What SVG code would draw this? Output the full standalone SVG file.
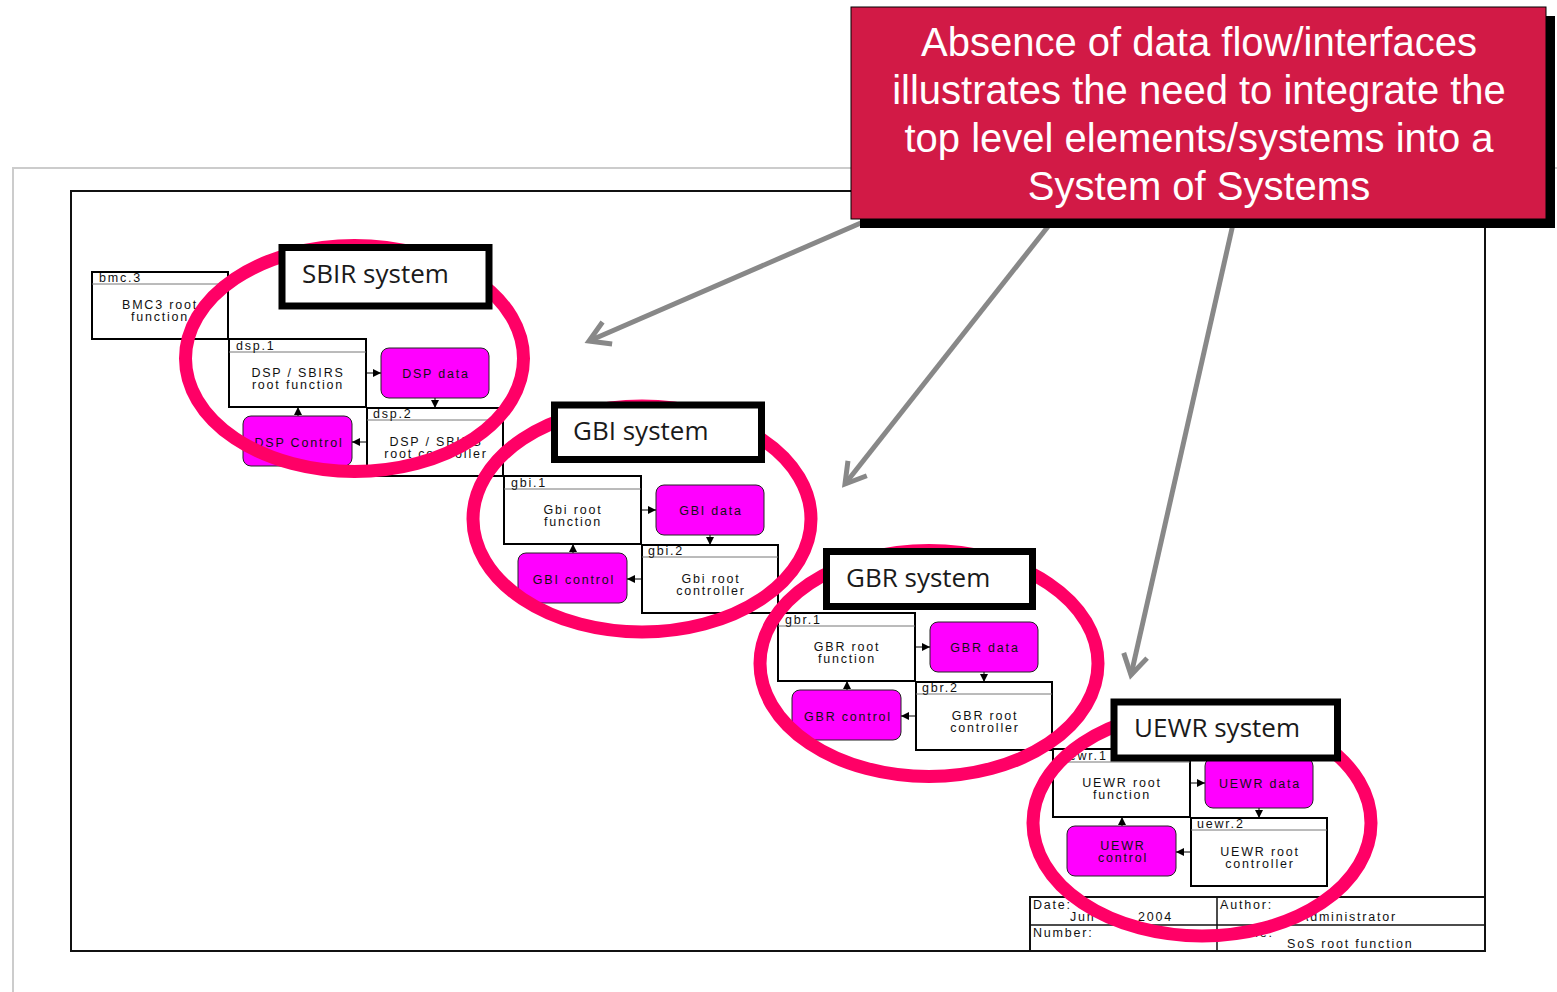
<svg xmlns="http://www.w3.org/2000/svg" width="1557" height="992" viewBox="0 0 1557 992">
  <defs>
    <style>
      .box { fill: #fff; stroke: #000; stroke-width: 2; }
      .hdr { stroke: #777; stroke-width: 1; }
      .mag { fill: #ff00ff; stroke: #222; stroke-width: 1; }
      .t { font-family: "Liberation Sans", Arial, sans-serif; font-size: 12.5px; letter-spacing: 1.8px; fill: #111; }
      .c { text-anchor: middle; }
      .lbl rect { fill: #fff; stroke: #000; stroke-width: 7; }
      .lbl text { font-family: "Open Sans", "Noto Sans", sans-serif; font-size: 26px; fill: #1a1a1a; }
      .ring { fill: none; stroke: #ff0066; stroke-width: 13; }
      .conn line { stroke: #000; stroke-width: 1; marker-end: url(#ah); }
      .pointer line { stroke: #888; stroke-width: 5; marker-end: url(#chev); }
      .note { font-family: "Liberation Sans", Arial, sans-serif; font-size: 40px; fill: #fff; text-anchor: middle; }
    </style>
    <marker id="ah" markerUnits="userSpaceOnUse" viewBox="0 0 8 8" refX="8" refY="4" markerWidth="8" markerHeight="8" orient="auto">
      <path d="M0,0 L8,4 L0,8 z" fill="#000"/>
    </marker>
    <marker id="chev" markerUnits="userSpaceOnUse" viewBox="-26 -16 32 32" refX="0" refY="0" markerWidth="32" markerHeight="32" orient="auto" overflow="visible">
      <path d="M-20,-12 L0,0 L-20,12" fill="none" stroke="#888" stroke-width="5"/>
    </marker>
  </defs>

  <rect width="1557" height="992" fill="#fff"/>

  <!-- page frames -->
  <g id="frames">
    <polyline points="13,992 13,168 1557,168" fill="none" stroke="#ccc" stroke-width="2"/>
    <rect x="71" y="191" width="1414" height="760" fill="none" stroke="#111" stroke-width="2"/>
  </g>

  <!-- title block -->
  <g id="titleblock">
    <rect x="1030" y="897" width="455" height="54" fill="#fff" stroke="#111" stroke-width="2"/>
    <line x1="1030" y1="925" x2="1485" y2="925" stroke="#111" stroke-width="1.5"/>
    <line x1="1217" y1="897" x2="1217" y2="951" stroke="#111" stroke-width="1.5"/>
    <text class="t" x="1033" y="909">Date:</text>
    <text class="t" y="921"><tspan x="1070">Jun</tspan><tspan x="1138">2004</tspan></text>
    <text class="t" x="1220" y="909">Author:</text>
    <text class="t" x="1300" y="921">Administrator</text>
    <text class="t" x="1033" y="937">Number:</text>
    <text class="t" x="1228" y="937">Name:</text>
    <text class="t" x="1287" y="948">SoS  root function</text>
  </g>

  <!-- BMC3 -->
  <g id="bmc3" transform="translate(92,272)">
    <rect class="box" width="136" height="67"/>
    <line class="hdr" x1="0" y1="12" x2="136" y2="12"/>
    <text class="t" x="7" y="10">bmc.3</text>
    <text class="t c" x="68" y="37">BMC3 root</text>
    <text class="t c" x="68" y="49">function</text>
  </g>

  <!-- SBIR / DSP -->
  <g id="dsp1" transform="translate(229,339)">
    <rect class="box" width="137" height="68"/>
    <line class="hdr" x1="0" y1="13" x2="137" y2="13"/>
    <text class="t" x="7" y="11">dsp.1</text>
    <text class="t c" x="69" y="38">DSP / SBIRS</text>
    <text class="t c" x="69" y="50">root function</text>
  </g>
  <g id="dspdata" transform="translate(381,348)">
    <rect class="mag" width="108" height="50" rx="8"/>
    <text class="t c" x="55" y="30">DSP data</text>
  </g>
  <g id="dsp2" transform="translate(367,408)">
    <rect class="box" width="136" height="68"/>
    <line class="hdr" x1="0" y1="12" x2="136" y2="12"/>
    <text class="t" x="6" y="10">dsp.2</text>
    <text class="t c" x="69" y="38">DSP / SBIRS</text>
    <text class="t c" x="69" y="50">root controller</text>
  </g>
  <g id="dspcontrol" transform="translate(243,416)">
    <rect class="mag" width="109" height="50" rx="8"/>
    <text class="t c" x="56" y="31">DSP Control</text>
  </g>

  <!-- GBI -->
  <g id="gbi1" transform="translate(504,476)">
    <rect class="box" width="137" height="68"/>
    <line class="hdr" x1="0" y1="13" x2="137" y2="13"/>
    <text class="t" x="7" y="11">gbi.1</text>
    <text class="t c" x="69" y="38">Gbi root</text>
    <text class="t c" x="69" y="50">function</text>
  </g>
  <g id="gbidata" transform="translate(656,485)">
    <rect class="mag" width="108" height="50" rx="8"/>
    <text class="t c" x="55" y="30">GBI data</text>
  </g>
  <g id="gbi2" transform="translate(642,545)">
    <rect class="box" width="136" height="68"/>
    <line class="hdr" x1="0" y1="12" x2="136" y2="12"/>
    <text class="t" x="6" y="10">gbi.2</text>
    <text class="t c" x="69" y="38">Gbi root</text>
    <text class="t c" x="69" y="50">controller</text>
  </g>
  <g id="gbicontrol" transform="translate(518,553)">
    <rect class="mag" width="109" height="50" rx="8"/>
    <text class="t c" x="56" y="31">GBI control</text>
  </g>

  <!-- GBR -->
  <g id="gbr1" transform="translate(778,613)">
    <rect class="box" width="137" height="68"/>
    <line class="hdr" x1="0" y1="13" x2="137" y2="13"/>
    <text class="t" x="7" y="11">gbr.1</text>
    <text class="t c" x="69" y="38">GBR root</text>
    <text class="t c" x="69" y="50">function</text>
  </g>
  <g id="gbrdata" transform="translate(930,622)">
    <rect class="mag" width="108" height="50" rx="8"/>
    <text class="t c" x="55" y="30">GBR data</text>
  </g>
  <g id="gbr2" transform="translate(916,682)">
    <rect class="box" width="136" height="68"/>
    <line class="hdr" x1="0" y1="12" x2="136" y2="12"/>
    <text class="t" x="6" y="10">gbr.2</text>
    <text class="t c" x="69" y="38">GBR root</text>
    <text class="t c" x="69" y="50">controller</text>
  </g>
  <g id="gbrcontrol" transform="translate(792,690)">
    <rect class="mag" width="109" height="50" rx="8"/>
    <text class="t c" x="56" y="31">GBR control</text>
  </g>

  <!-- UEWR -->
  <g id="uewr1" transform="translate(1053,749)">
    <rect class="box" width="137" height="68"/>
    <line class="hdr" x1="0" y1="13" x2="137" y2="13"/>
    <text class="t" x="7" y="11">uewr.1</text>
    <text class="t c" x="69" y="38">UEWR root</text>
    <text class="t c" x="69" y="50">function</text>
  </g>
  <g id="uewrdata" transform="translate(1205,758)">
    <rect class="mag" width="108" height="50" rx="8"/>
    <text class="t c" x="55" y="30">UEWR data</text>
  </g>
  <g id="uewr2" transform="translate(1191,818)">
    <rect class="box" width="136" height="68"/>
    <line class="hdr" x1="0" y1="12" x2="136" y2="12"/>
    <text class="t" x="6" y="10">uewr.2</text>
    <text class="t c" x="69" y="38">UEWR root</text>
    <text class="t c" x="69" y="50">controller</text>
  </g>
  <g id="uewrcontrol" transform="translate(1067,826)">
    <rect class="mag" width="109" height="50" rx="8"/>
    <text class="t c" x="56" y="24">UEWR</text>
    <text class="t c" x="56" y="36">control</text>
  </g>

  <!-- connectors inside each system -->
  <g id="connectors" class="conn">
    <line x1="366" y1="373" x2="381" y2="373"/>
    <line x1="435" y1="398" x2="435" y2="408"/>
    <line x1="367" y1="442" x2="352" y2="442"/>
    <line x1="298" y1="416" x2="298" y2="407"/>

    <line x1="641" y1="510" x2="656" y2="510"/>
    <line x1="710" y1="535" x2="710" y2="545"/>
    <line x1="642" y1="579" x2="627" y2="579"/>
    <line x1="573" y1="553" x2="573" y2="544"/>

    <line x1="915" y1="647" x2="930" y2="647"/>
    <line x1="984" y1="672" x2="984" y2="682"/>
    <line x1="916" y1="716" x2="901" y2="716"/>
    <line x1="847" y1="690" x2="847" y2="681"/>

    <line x1="1190" y1="783" x2="1205" y2="783"/>
    <line x1="1259" y1="808" x2="1259" y2="818"/>
    <line x1="1191" y1="852" x2="1176" y2="852"/>
    <line x1="1122" y1="826" x2="1122" y2="817"/>
  </g>

  <!-- highlight rings -->
  <g id="rings">
    <ellipse class="ring" cx="354.5" cy="358.5" rx="169" ry="113"/>
    <ellipse class="ring" cx="642" cy="519" rx="169" ry="113"/>
    <ellipse class="ring" cx="929" cy="663.5" rx="169" ry="113"/>
    <ellipse class="ring" cx="1202" cy="823" rx="169" ry="113"/>
  </g>

  <!-- system labels -->
  <g id="label-sbir" class="lbl">
    <rect x="282" y="247.5" width="207" height="58.5"/>
    <text x="302" y="283">SBIR system</text>
  </g>
  <g id="label-gbi" class="lbl">
    <rect x="554.5" y="405" width="207" height="54.5"/>
    <text x="573" y="440">GBI system</text>
  </g>
  <g id="label-gbr" class="lbl">
    <rect x="826.5" y="551.5" width="206" height="55"/>
    <text x="846" y="587">GBR system</text>
  </g>
  <g id="label-uewr" class="lbl">
    <rect x="1114" y="702" width="223.5" height="56"/>
    <text x="1134" y="737">UEWR system</text>
  </g>

  <!-- pointers from the note -->
  <g id="pointers" class="pointer">
    <line x1="870" y1="219" x2="589" y2="341"/>
    <line x1="1050" y1="224" x2="845" y2="484"/>
    <line x1="1233" y1="224" x2="1131" y2="675"/>
  </g>

  <!-- note -->
  <g id="note">
    <rect x="860" y="16" width="695" height="212" fill="#000"/>
    <rect x="851" y="7" width="695" height="212" fill="#d21a46" stroke="#000" stroke-width="1"/>
    <text class="note" x="1199" y="56">Absence of data flow/interfaces</text>
    <text class="note" x="1199" y="104">illustrates the need to integrate the</text>
    <text class="note" x="1199" y="152">top level elements/systems into a</text>
    <text class="note" x="1199" y="200">System of Systems</text>
  </g>
</svg>
